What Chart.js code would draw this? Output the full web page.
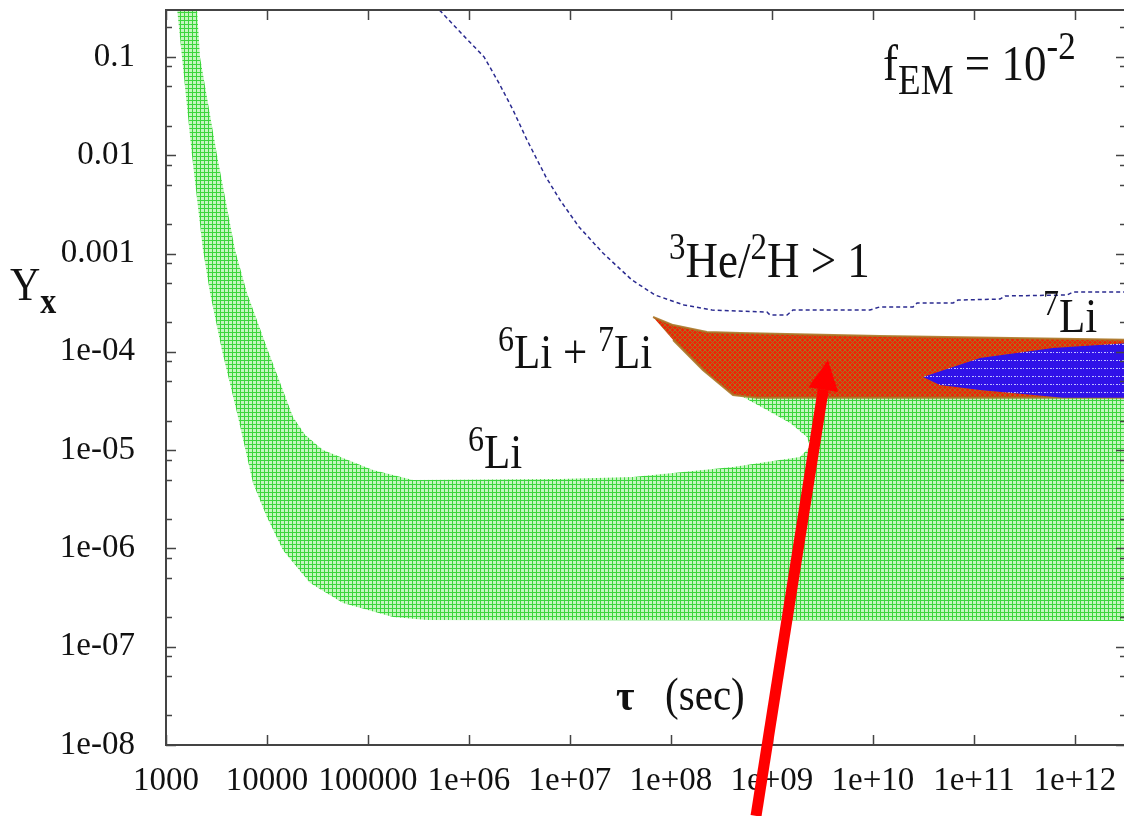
<!DOCTYPE html>
<html>
<head>
<meta charset="utf-8">
<script src="https://cdn.jsdelivr.net/npm/chart.js@4.4.0/dist/chart.umd.min.js"></script>
<style>
  html, body { margin: 0; padding: 0; background: #fff; overflow: hidden; }
  canvas { display: block; }
</style>
</head>
<body>
<canvas id="myChart" width="1128" height="816"></canvas>
<script>
// axes
const xTicks = [1e3, 1e4, 1e5, 1e6, 1e7, 1e8, 1e9, 1e10, 1e11, 1e12];
const xTickLabels = ["1000", "10000", "100000", "1e+06", "1e+07", "1e+08", "1e+09", "1e+10", "1e+11", "1e+12"];
const yTicks = [1e-8, 1e-7, 1e-6, 1e-5, 1e-4, 1e-3, 1e-2, 0.1];
const yTickLabels = ["1e-08", "1e-07", "1e-06", "1e-05", "1e-04", "0.001", "0.01", "0.1"];
const yMinor = [2, 5, 8];
const xRange = [1000, 3.2e12];
const yRange = [1e-8, 0.3];

// 6Li excluded region (green), boundary walked round
const li6Tau = [1146, 1440, 1808, 2323, 2729, 3581, 5164, 7263, 1.0e4, 1.44e4, 2.67e4, 5.65e4, 1.77e5, 3.84e5, 5e12,
  5e12, 7.1e8, 5.16e8, 8.9e8, 1.51e9, 2.22e9, 2.38e9, 1.89e9, 4.11e8, 4.21e7, 7.96e6, 2.79e5, 1.12e5, 3.58e4, 2.38e4,
  1.81e4, 1.02e4, 6.34e3, 4.82e3, 3.2e3, 2.17e3, 1.89e3];
const li6Y = [1, 0.1, 0.01, 1.09e-3, 3.96e-4, 1.04e-4, 2.17e-5, 4.62e-6, 2.08e-6, 9.6e-7, 4.45e-7, 2.79e-7, 2.0e-7, 1.87e-7, 1.82e-7,
  3.4e-5, 3.4e-5, 3.47e-5, 2.56e-5, 1.89e-5, 1.36e-5, 1.08e-5, 8.5e-6, 6.73e-6, 5.32e-6, 5.08e-6, 4.96e-6, 6.28e-6, 1.0e-5, 1.43e-5,
  2.17e-5, 1.04e-4, 3.96e-4, 1.09e-3, 0.01, 0.1, 1];

// 6Li + 7Li region (red)
const li67Tau = [6.64e7, 1.05e8, 2.27e8, 4.82e8, 1.17e10, 5e12, 5e12, 7.1e8, 4.11e8, 2.07e8, 1.05e8];
const li67Y = [2.26e-4, 1.87e-4, 1.59e-4, 1.55e-4, 1.45e-4, 1.32e-4, 3.4e-5, 3.4e-5, 3.64e-5, 6.53e-5, 1.32e-4];

// 7Li region (blue)
const li7Tau = [3.13e10, 5.78e10, 1.15e11, 6.05e11, 5e12, 5e12, 7.6e11, 1.15e11, 4.6e10];
const li7Y = [5.55e-5, 6.84e-5, 8.65e-5, 1.09e-4, 1.26e-4, 3.4e-5, 3.4e-5, 4.08e-5, 4.59e-5];

// 3He/2H > 1 boundary (dashed)
const heTau = [4.11e5, 8.34e5, 1.41e6, 1.98e6, 2.73e6, 3.75e6, 5.78e6, 7.96e6, 1.23e7, 2.12e7, 4.11e7, 6.95e7, 1.35e8, 2.55e8,
  8.91e8, 9.55e8, 1.41e9, 1.61e9, 9.33e9, 1.17e10, 2.49e10, 2.73e10, 6.2e10, 6.95e10, 1.81e11, 2.03e11, 8.34e11, 9.55e11, 5e12];
const heY = [0.38, 0.175, 0.1, 0.0542, 0.0288, 0.0143, 6.0e-3, 3.5e-3, 1.86e-3, 1.01e-3, 5.37e-4, 3.78e-4, 2.99e-4, 2.66e-4,
  2.54e-4, 2.37e-4, 2.37e-4, 2.66e-4, 2.66e-4, 2.86e-4, 2.86e-4, 3.13e-4, 3.13e-4, 3.36e-4, 3.44e-4, 3.70e-4, 3.78e-4, 4.06e-4, 4.06e-4];

// red arrow: tail, head (tau, Y)
const arrowTau = [6.95e8, 3.58e9];
const arrowY = [1.9e-9, 8.26e-5];

const ctx = document.getElementById('myChart').getContext('2d');
const SERIF = '"Liberation Serif", "Times New Roman", serif';

function tile(w, h, bg, draw) {
  const c = document.createElement('canvas');
  c.width = w; c.height = h;
  const g = c.getContext('2d');
  g.fillStyle = bg; g.fillRect(0, 0, w, h);
  draw(g);
  return ctx.createPattern(c, 'repeat');
}
const greenFill = tile(4, 4, 'rgb(196,246,190)', g => {
  g.fillStyle = 'rgb(60,214,60)';
  g.fillRect(0, 0, 4, 1); g.fillRect(0, 0, 1, 4);
});
const redFill = tile(5, 5, 'rgb(238,36,6)', g => {
  g.strokeStyle = 'rgb(165,115,35)'; g.lineWidth = 1;
  g.beginPath(); g.moveTo(0, 0); g.lineTo(5, 5); g.moveTo(5, 0); g.lineTo(0, 5); g.stroke();
});
const blueFill = tile(6, 8, 'rgb(48,18,232)', g => {
  g.fillStyle = 'rgb(190,190,255)';
  g.fillRect(0, 0, 2, 1); g.fillRect(3, 0, 1, 1);
});

const pts = (xs, ys) => xs.map((x, i) => ({x: x, y: ys[i]}));

// text next to the regions: runs of [text, size, raise, weight]
const notes = [
  {tau: 1.26e10, y: 0.0582, runs: [['f', 45, 0], ['EM', 37, 14], [' = 10', 45, 0], ['-2', 35, -21]]},
  {tau: 9.55e7, y: 5.77e-4, runs: [['3', 33, -18], ['He/', 45, 0], ['2', 33, -18], ['H > 1', 45, 0]]},
  {tau: 1.94e6, y: 6.84e-5, runs: [['6', 32, -17], ['Li + ', 43, 0], ['7', 32, -17], ['Li', 43, 0]]},
  {tau: 9.77e5, y: 6.58e-6, runs: [['6', 32, -17], ['Li', 43, 0]]},
  {tau: 4.82e11, y: 1.59e-4, runs: [['7', 32, -17], ['Li', 43, 0]]},
  {tau: 2.85e7, y: 2.27e-8, runs: [['\u03C4', 40, 0, 'bold'], ['   (sec)', 41, 0]]}
];

// the printed figure is a little taller than wide, stretch text to match
function runs(c, x, y, list) {
  c.save();
  c.translate(x, y);
  c.scale(1, 1.12);
  let dx = 0;
  for (const r of list) {
    c.font = (r[3] || '') + ' ' + r[1] + 'px ' + SERIF;
    c.fillText(r[0], dx, r[2] / 1.12);
    dx += c.measureText(r[0]).width;
  }
  c.restore();
}

const decor = {
  id: 'decor',
  afterDraw(chart) {
    const c = chart.ctx, a = chart.chartArea, sx = chart.scales.x, sy = chart.scales.y;
    c.save();
    c.strokeStyle = '#444';
    c.lineWidth = 2;
    c.beginPath();
    c.moveTo(a.left, a.top); c.lineTo(a.right, a.top); c.lineTo(a.right, a.bottom);
    c.stroke();
    // inward tick marks
    c.lineWidth = 1.5;
    c.beginPath();
    xTicks.forEach(v => {
      const p = Math.round(sx.getPixelForValue(v)) + 0.5;
      c.moveTo(p, a.bottom); c.lineTo(p, a.bottom - 10);
      c.moveTo(p, a.top); c.lineTo(p, a.top + 10);
    });
    yTicks.forEach(v => {
      const p = Math.round(sy.getPixelForValue(v)) + 0.5;
      c.moveTo(a.left, p); c.lineTo(a.left + 10, p);
      c.moveTo(a.right, p); c.lineTo(a.right - 10, p);
      yMinor.forEach(m => {
        const q = Math.round(sy.getPixelForValue(v * m)) + 0.5;
        if (q < a.top) return;
        c.moveTo(a.left, q); c.lineTo(a.left + 6, q);
        c.moveTo(a.right, q); c.lineTo(a.right - 6, q);
      });
    });
    c.stroke();

    c.fillStyle = '#111';
    c.textBaseline = 'alphabetic';
    notes.forEach(n => runs(c, sx.getPixelForValue(n.tau), sy.getPixelForValue(n.y), n.runs));
    // Y_x axis title
    runs(c, 10, sy.getPixelForValue(3.4e-4), [['Y', 42, 0], ['x', 32, 13, 'bold']]);

    // arrow
    const x0 = sx.getPixelForValue(arrowTau[0]), y0 = sy.getPixelForValue(arrowY[0]);
    const x1 = sx.getPixelForValue(arrowTau[1]), y1 = sy.getPixelForValue(arrowY[1]);
    const ang = Math.atan2(y1 - y0, x1 - x0);
    const hl = 30, hw = 15;
    const bx = x1 - hl * Math.cos(ang), by = y1 - hl * Math.sin(ang);
    c.strokeStyle = '#ff0000';
    c.fillStyle = '#ff0000';
    c.lineWidth = 11;
    c.beginPath(); c.moveTo(x0, y0); c.lineTo(bx, by); c.stroke();
    c.beginPath();
    c.moveTo(x1, y1);
    c.lineTo(bx + hw * Math.sin(ang), by - hw * Math.cos(ang));
    c.lineTo(bx - hw * Math.sin(ang), by + hw * Math.cos(ang));
    c.closePath(); c.fill();
    c.restore();
  }
};

const tickFont = {family: SERIF, size: 33};

new Chart(ctx, {
  type: 'scatter',
  data: {
    datasets: [
      {label: '3He/2H > 1', data: pts(heTau, heY), showLine: true, borderColor: '#2b2b90', borderWidth: 1.5,
        borderDash: [4, 3], pointRadius: 0, fill: false, order: 1},
      {label: '7Li', data: pts(li7Tau, li7Y), showLine: true, borderColor: 'rgba(0,0,0,0)', borderWidth: 1,
        backgroundColor: blueFill, fill: 'shape', pointRadius: 0, order: 2},
      {label: '6Li + 7Li', data: pts(li67Tau, li67Y), showLine: true, borderColor: 'rgba(170,120,40,0.9)', borderWidth: 2,
        backgroundColor: redFill, fill: 'shape', pointRadius: 0, order: 3},
      {label: '6Li', data: pts(li6Tau, li6Y), showLine: true, borderColor: 'rgba(0,0,0,0)', borderWidth: 1,
        backgroundColor: greenFill, fill: 'shape', pointRadius: 0, order: 4}
    ]
  },
  options: {
    responsive: false,
    animation: false,
    devicePixelRatio: 1,
    layout: {padding: {top: 10, right: 2, left: 0, bottom: 0}},
    plugins: {legend: {display: false}, tooltip: {enabled: false}},
    scales: {
      x: {
        type: 'logarithmic', min: xRange[0], max: xRange[1],
        grid: {display: false},
        border: {display: true, color: '#444', width: 2},
        ticks: {autoSkip: false, maxRotation: 0, padding: 9, color: '#111', font: tickFont,
          callback: (v, i) => xTickLabels[i]},
        afterBuildTicks: s => { s.ticks = xTicks.map(v => ({value: v})); },
        afterFit: s => { s.height = 71; s.paddingLeft = 0; s.paddingRight = 0; }
      },
      y: {
        type: 'logarithmic', min: yRange[0], max: yRange[1],
        grid: {display: false},
        border: {display: true, color: '#444', width: 2},
        ticks: {autoSkip: false, padding: 23, color: '#111', font: tickFont,
          callback: (v, i) => yTickLabels[i]},
        afterBuildTicks: s => { s.ticks = yTicks.map(v => ({value: v})); },
        afterFit: s => { s.width = 166; s.paddingTop = 0; s.paddingBottom = 0; }
      }
    }
  },
  plugins: [decor]
});
</script>
</body>
</html>
